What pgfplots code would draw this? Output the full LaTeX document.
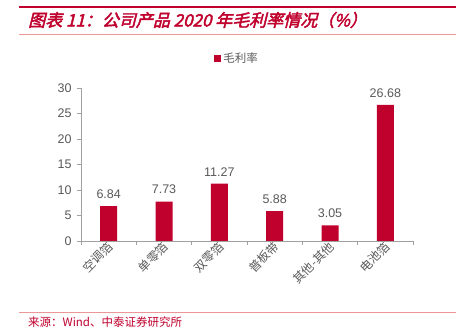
\documentclass[border=0pt]{standalone}
\usepackage{pgfplots}
\pgfplotsset{compat=1.18}
\usepackage{fontspec}
\setmainfont{Liberation Sans}
\newfontfamily\cjk{Noto Sans CJK SC}
\newfontfamily\cjktitle[FakeSlant=0.25,FakeBold=2.5]{Noto Sans CJK SC}
\definecolor{barred}{RGB}{192,0,45}
\definecolor{linered}{RGB}{236,150,150}
\definecolor{txtgray}{RGB}{89,89,89}
\definecolor{axgray}{RGB}{160,160,160}
\begin{document}
\begin{tikzpicture}
\useasboundingbox (0,0) rectangle (459bp,329bp);
\draw[barred, line width=2.2bp] (19bp,322bp) -- (456bp,322bp);
\node[anchor=west, text=barred, inner sep=0pt] at (28bp,309bp) {\fontsize{17bp}{19bp}\cjktitle 图表 11：公司产品 2020 年毛利率情况（\%）};
\draw[linered, line width=0.6bp] (19bp,295bp) -- (456bp,295bp);
\draw[linered, line width=0.6bp] (19bp,17bp) -- (456bp,17bp);
\node[anchor=west, text=barred, inner sep=0pt] at (28bp,7bp) {\fontsize{11.5bp}{13bp}\cjk 来源：Wind、中泰证券研究所};
\begin{axis}[
  at={(81bp,88bp)}, anchor=south west,
  scale only axis, width=332bp, height=153bp,
  ybar, bar width=17bp,
  xmin=-0.5, xmax=5.5, ymin=0, ymax=30,
  axis lines=left, axis line style={-, draw=axgray, line width=0.8bp},
  ytick={0,5,...,30},
  xtick={0,1,2,3,4,5},
  xticklabels={空调箔,单零箔,双零箔,普板带,其他-其他,电池箔},
  minor xtick={-0.5,0.5,1.5,2.5,3.5,4.5,5.5},
  tick align=outside,
  major tick length=4bp, minor tick length=4bp,
  x tick style={draw=none},
  minor x tick style={draw=axgray, line width=0.8bp},
  y tick style={draw=axgray, line width=0.8bp},
  /pgf/number format/assume math mode=true,
  yticklabel style={font=\fontsize{12.5bp}{14bp}\selectfont, text=txtgray, xshift=-2bp},
  xticklabel style={font=\fontsize{12bp}{14bp}\cjk, text=txtgray, rotate=45, anchor=east, xshift=3bp, yshift=-1bp, inner sep=1pt},
  nodes near coords,
  nodes near coords style={font=\fontsize{12.5bp}{14bp}\selectfont, text=txtgray, yshift=4bp,
    /pgf/number format/fixed, /pgf/number format/precision=2, /pgf/number format/fixed zerofill},
  legend style={at={(0.47,1.196)}, anchor=center, draw=none, fill=none, font=\fontsize{11.5bp}{14bp}\cjk, text=txtgray},
  legend image code/.code={\fill[barred] (0bp,-3.5bp) rectangle (7bp,3.5bp);},
]
\addplot[fill=barred, draw=none] coordinates {(0,6.84) (1,7.73) (2,11.27) (3,5.88) (4,3.05) (5,26.68)};
\addlegendentry{毛利率}
\end{axis}
\end{tikzpicture}
\end{document}
